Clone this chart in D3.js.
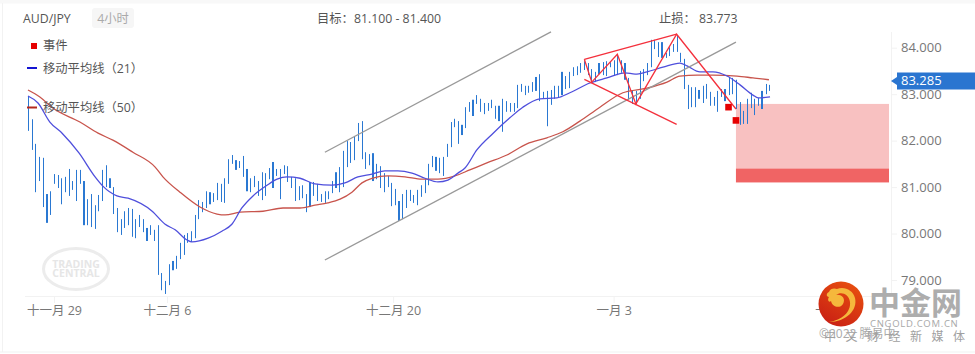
<!DOCTYPE html>
<html>
<head>
<meta charset="utf-8">
<script src="https://cdn.jsdelivr.net/npm/d3@7"></script>
<style>
  html, body { margin: 0; padding: 0; background: #fff; overflow: hidden; }
  text { font-family: "Open Sans", "Noto Sans CJK SC", sans-serif; }
</style>
</head>
<body>
<div id="chart"></div>
<script>
const highs = [82.96,82.46,81.93,81.65,81.63,80.85,80.91,81.28,81.26,81.19,81.22,81.39,81.13,81.37,81.37,81.13,80.74,80.85,80.61,80.83,
  81.37,81.47,81.19,81.00,80.55,80.31,80.48,80.55,80.53,80.31,80.40,80.31,80.12,80.18,80.08,80.18,79.15,78.98,79.34,79.41,
  79.52,79.80,79.97,80.01,80.05,80.40,80.72,80.68,80.91,80.89,80.87,81.09,81.07,81.19,81.60,81.69,81.58,81.56,81.67,81.39,
  81.19,81.24,81.13,81.32,81.30,81.41,81.54,81.39,81.39,81.47,81.45,81.22,81.19,81.02,81.04,80.85,81.11,81.11,81.07,80.85,
  80.91,80.91,81.13,81.32,81.43,81.78,81.99,81.97,82.10,82.38,82.42,81.75,81.71,81.73,81.50,81.45,81.30,81.24,81.09,80.96,
  80.70,80.85,80.94,80.94,80.83,80.94,81.04,81.17,81.50,81.67,81.65,81.63,81.65,81.93,82.40,82.47,82.42,82.34,82.72,82.83,
  82.88,82.98,82.90,82.81,82.81,82.88,82.75,82.75,82.90,82.85,82.81,82.81,83.20,83.22,83.18,83.18,83.26,83.37,83.43,83.05,
  83.07,83.09,83.18,83.18,83.48,83.39,83.48,83.58,83.60,83.67,83.71,83.67,83.54,83.48,83.67,83.69,83.71,83.69,83.73,83.86,
  83.73,83.67,83.35,83.07,83.07,83.50,83.54,83.67,84.17,84.17,84.12,84.12,83.89,84.01,84.08,84.27,83.89,83.76,83.20,83.15,
  83.15,83.09,83.18,83.22,83.05,82.94,83.07,83.11,83.11,83.37,83.35,83.31,82.83,82.64,82.90,83.03,82.90,82.92,83.07,83.22,83.20];
const lows = [82.21,81.80,80.89,81.13,80.57,80.23,80.40,81.07,80.98,80.63,80.89,80.81,80.94,80.70,81.07,80.18,80.18,80.14,80.10,80.48,
  80.70,81.00,80.98,80.42,80.03,79.97,80.12,80.18,79.93,79.90,80.14,80.03,79.84,79.97,79.84,79.11,78.78,78.70,78.89,79.21,
  79.24,79.45,79.54,79.80,79.82,79.90,80.31,80.46,80.55,80.63,80.68,80.72,80.68,80.66,81.07,81.50,81.37,81.41,81.22,80.91,
  80.89,81.00,80.81,80.72,80.81,81.17,80.98,81.24,80.74,81.28,81.11,80.98,80.70,80.72,80.76,80.46,80.57,80.81,80.70,80.68,
  80.66,80.74,80.87,80.98,80.89,81.00,81.43,81.52,81.58,81.99,81.60,81.39,81.47,81.13,81.17,80.98,80.89,81.00,80.59,80.61,
  80.27,80.31,80.55,80.70,80.66,80.61,80.79,80.87,81.04,81.43,81.35,81.30,81.24,81.65,81.86,82.29,81.93,82.12,82.27,82.62,
  82.53,82.79,82.62,82.57,82.64,82.70,82.47,82.42,82.19,82.62,82.62,82.62,82.70,83.05,82.98,83.03,83.05,83.07,82.85,82.90,
  82.31,82.77,82.90,82.92,82.98,83.11,83.13,83.39,83.41,83.46,83.52,83.41,83.26,83.26,83.43,83.41,83.39,83.58,83.41,83.41,
  83.46,83.31,82.88,82.79,82.79,82.90,83.28,83.41,83.58,83.97,83.80,83.78,83.78,83.82,83.91,83.91,83.69,83.11,82.68,82.72,
  82.72,82.90,82.81,82.90,82.75,82.75,82.62,82.94,82.85,82.98,83.00,82.68,82.34,82.36,82.36,82.70,82.55,82.75,82.68,83.00,83.07];
// bars that come out two pixels wide in the picture
const wideBars = [5,15,22,32,39,49,56,59,66,76,83,93,100,110,117,120,127,137,144,154,161,171,181,188,198];

const ma21Bars = [0,2.7,5.9,9.2,13.8,18.1,20.2,24,27,33.5,37,39.7,42.9,44.2,48.6,52.3,55,57.7,60.7,64.5,67.2,69.9,73.4,77.4,82,85.5,89,92.8,96.3,99.8,
  103.6,107.1,110.6,113.3,116,117.9,121.1,125.5,130,133.5,138.1,142.7,146.2,151.6,156.2,161.1,163.8,167,171.3,175.9,177.8,181.3,184.8,188.6,192.1,195.6,197,200.2];
const ma21Values = [82.96,82.81,82.40,82.16,81.73,81.22,81.02,80.81,80.76,80.48,80.20,80.08,79.86,79.82,79.90,80.05,80.20,80.55,80.81,81.04,81.17,81.22,81.19,81.07,81.04,81.09,81.22,81.28,81.35,81.35,
  81.30,81.19,81.11,81.15,81.30,81.41,81.80,82.16,82.49,82.72,82.90,82.92,83.03,83.24,83.35,83.46,83.43,83.48,83.58,83.67,83.61,83.48,83.48,83.39,83.20,82.98,82.92,82.94];
const ma50Bars = [0,3.2,6.7,14,18.9,22.9,28.3,34.3,36.4,41,46.4,51,53.2,57.2,63.4,68.8,73.4,77.4,80.9,84.2,87.4,90.1,92.8,97.1,101.7,106.3,110.6,115.2,119.2,123.8,
  129.2,134.6,140,144.3,148.9,154.3,160.5,167,172.4,175.9,180.5,184.8,191.3,195.6,199.9];
const ma50Values = [83.09,82.94,82.70,82.40,82.16,82.01,81.75,81.43,81.22,80.89,80.57,80.42,80.40,80.46,80.48,80.55,80.55,80.61,80.66,80.74,80.89,81.09,81.19,81.24,81.22,81.17,81.17,81.24,81.37,81.52,
  81.69,81.93,82.06,82.19,82.42,82.72,83.03,83.13,83.26,83.39,83.41,83.41,83.39,83.35,83.31];

const channelUpper = [[80.1,81.75],[141.1,84.34]];
const channelLower = [[80.1,79.43],[191,84.12]];
const patternTop = [[150.1,83.75],[175,84.29]];
const patternBottom = [[150.1,83.32],[175,82.35]];
const patternZigzag = [[150.1,83.75],[152.1,83.26],[159,83.86],[164,82.79],[175,84.29],[191,82.68]];
const events = [[189,82.72],[191,82.435]];

const priceTicks = [84,83,82,81,80,79];
const timeTickBars = [7,37.5,98.5,158,218];
const timeTickLabels = ["十一月 29","十二月 6","十二月 20","一月 3","一月 10"];
const lastPrice = 83.285;
const zoneStart = 191;
const zoneTop = 82.79, targetHigh = 81.4, targetLow = 81.1;

const width = 975, height = 354;
const plotRight = 889, plotBottom = 296;

const svg = d3.select("#chart").append("svg")
  .attr("width", width).attr("height", height)
  .style("display", "block");

const x = d3.scaleLinear().domain([0, 200]).range([28, 769.3]);
const y = d3.scaleLinear().domain([84, 79]).range([47.7, 280]);

// page frame
svg.append("rect").attr("width", width).attr("height", 3.5).attr("fill", "#f8f8f8");
svg.append("rect").attr("x", 2).attr("y", 3).attr("width", 1).attr("height", 349).attr("fill", "#f2f2f2");
svg.append("rect").attr("y", 351.5).attr("width", width).attr("height", 1).attr("fill", "#f2f2f2");

// axes
const xAxis = d3.axisBottom(x).tickValues(timeTickBars)
  .tickFormat((d, i) => timeTickLabels[i]).tickSize(7).tickPadding(3);
const gx = svg.append("g").attr("transform", `translate(0,${plotBottom})`).call(xAxis);
gx.select(".domain").attr("d", `M25,0.5H${plotRight + 2}`).attr("stroke", "#f2f2f2");
gx.selectAll(".tick line").attr("stroke", "#f2f2f2");
gx.selectAll(".tick text").attr("fill", "#777").attr("font-size", 12.5);

const yAxis = d3.axisRight(y).tickValues(priceTicks)
  .tickFormat(d3.format(".3f")).tickSize(6).tickPadding(4);
const gy = svg.append("g").attr("transform", `translate(${plotRight + 2},0)`).call(yAxis);
gy.select(".domain").attr("d", `M0.5,32V${plotBottom}`).attr("stroke", "#f2f2f2");
gy.selectAll(".tick line").attr("stroke", "#f2f2f2");
gy.selectAll(".tick text").attr("fill", "#777").attr("font-size", 13);

// trading central watermark
const mark = svg.append("g").attr("transform", "translate(76,269)");
mark.append("ellipse").attr("rx", 32.5).attr("ry", 20.5)
  .attr("fill", "none").attr("stroke", "#ececec").attr("stroke-width", 3);
mark.append("text").attr("text-anchor", "middle").attr("y", -1)
  .attr("font-size", 10.5).attr("font-weight", 700).attr("fill", "#e6e6e6").text("TRADING");
mark.append("text").attr("text-anchor", "middle").attr("y", 8)
  .attr("font-size", 10.5).attr("font-weight", 700).attr("fill", "#e6e6e6").text("CENTRAL");

// target / stop zones
svg.append("rect").attr("x", x(zoneStart)).attr("y", y(zoneTop))
  .attr("width", plotRight - x(zoneStart)).attr("height", y(targetHigh) - y(zoneTop))
  .attr("fill", "#f8c1c1");
svg.append("rect").attr("x", x(zoneStart)).attr("y", y(targetHigh))
  .attr("width", plotRight - x(zoneStart)).attr("height", y(targetLow) - y(targetHigh))
  .attr("fill", "#f06464");

// price bars
svg.append("g").selectAll("rect").data(highs).join("rect")
  .attr("x", (d, i) => Math.round(x(i)) - (wideBars.includes(i) ? 1 : 0))
  .attr("y", d => y(d))
  .attr("width", (d, i) => wideBars.includes(i) ? 2 : 1)
  .attr("height", (d, i) => y(lows[i]) - y(d))
  .attr("fill", "#2a78d2");

// moving averages
const maLine = d3.line().x(d => x(d[0])).y(d => y(d[1])).curve(d3.curveMonotoneX);
svg.append("path").datum(d3.zip(ma50Bars, ma50Values)).attr("d", maLine)
  .attr("fill", "none").attr("stroke", "#c8544c").attr("stroke-width", 1.3);
svg.append("path").datum(d3.zip(ma21Bars, ma21Values)).attr("d", maLine)
  .attr("fill", "none").attr("stroke", "#4f4fdc").attr("stroke-width", 1.3);

// drawn lines
const straight = d3.line().x(d => x(d[0])).y(d => y(d[1]));
[channelUpper, channelLower].forEach(c => {
  svg.append("path").attr("d", straight(c)).attr("fill", "none")
    .attr("stroke", "#999").attr("stroke-width", 1.3);
});
[patternTop, patternBottom, patternZigzag].forEach(c => {
  svg.append("path").attr("d", straight(c)).attr("fill", "none")
    .attr("stroke", "#f4303c").attr("stroke-width", 1.3);
});

// events
svg.append("g").selectAll("rect").data(events).join("rect")
  .attr("x", d => x(d[0]) - 3.3).attr("y", d => y(d[1]) - 3.3)
  .attr("width", 6.6).attr("height", 6.6).attr("fill", "#e60000");

// last price tag
const tagY = y(lastPrice);
svg.append("path")
  .attr("d", `M891,${tagY}L897,${tagY - 4}V${tagY - 8.5}H975V${tagY + 8.5}H897V${tagY + 4}Z`)
  .attr("fill", "#2a75d0");
svg.append("text").attr("x", 901).attr("y", tagY).attr("dy", "0.35em")
  .attr("font-size", 13).attr("fill", "#fff").text(d3.format(".3f")(lastPrice));

// header
svg.append("text").attr("x", 23).attr("y", 23).attr("font-size", 12.3).attr("fill", "#555").text("AUD/JPY");
svg.append("rect").attr("x", 92).attr("y", 8).attr("width", 42).attr("height", 20).attr("rx", 3).attr("fill", "#f6f6f6");
svg.append("text").attr("x", 113).attr("y", 23).attr("text-anchor", "middle").attr("font-size", 12.3).attr("fill", "#aaa").text("4小时");
svg.append("text").attr("x", 317).attr("y", 23).attr("font-size", 12.3).attr("fill", "#555").text("目标：81.100 - 81.400");
svg.append("text").attr("x", 659).attr("y", 23).attr("font-size", 12.3).attr("fill", "#555").text("止损：  83.773");

// legend
svg.append("rect").attr("x", 31).attr("y", 43).attr("width", 6).attr("height", 6).attr("fill", "#e60000");
svg.append("rect").attr("x", 27).attr("y", 67).attr("width", 10).attr("height", 2).attr("fill", "#1414d2");
svg.append("rect").attr("x", 27).attr("y", 106.5).attr("width", 10).attr("height", 2).attr("fill", "#b4281e");
[["事件", 46], ["移动平均线（21）", 69], ["移动平均线（50）", 108]].forEach(d => {
  svg.append("text").attr("x", 43).attr("y", d[1]).attr("dy", "0.35em")
    .attr("font-size", 12.3).attr("fill", "#555").text(d[0]);
});

// site logo, bottom right
const grad = svg.append("defs").append("linearGradient").attr("id", "logoFill")
  .attr("x1", 0.8).attr("y1", 0).attr("x2", 0.2).attr("y2", 1);
grad.append("stop").attr("offset", 0).attr("stop-color", "#e8500f");
grad.append("stop").attr("offset", 1).attr("stop-color", "#c81e14");
svg.append("circle").attr("cx", 841).attr("cy", 304).attr("r", 22.5).attr("fill", "url(#logoFill)");
svg.append("path")
  .attr("d", "M829,322C842,320 851,312 850,302C849,294 841,291 836,295C842,294 846,299 843,304C840,309 832,307 831,301C829,303 827,300 829,297C826,297 826,293 829,292C830,288 835,288 837,289C844,286 853,290 855,298C858,310 846,322 829,322Z")
  .attr("fill", "#f5b83c");
svg.append("text").attr("x", 869).attr("y", 314).attr("font-size", 31).attr("font-weight", 700)
  .attr("fill", "#adadad").text("中金网");
svg.append("text").attr("x", 870).attr("y", 326.5).attr("font-size", 9.5).attr("letter-spacing", 0.7)
  .attr("fill", "#a8a8a8").text("CNGOLD.COM.CN");
svg.append("text").attr("x", 819).attr("y", 338).attr("font-size", 12).attr("fill", "#aaa").text("©2022 腾易中");
svg.append("text").attr("x", 824).attr("y", 341).attr("font-size", 12).attr("letter-spacing", 9.5)
  .attr("fill", "#a0a0a0").text("中文财经新媒体");
</script>
</body>
</html>
